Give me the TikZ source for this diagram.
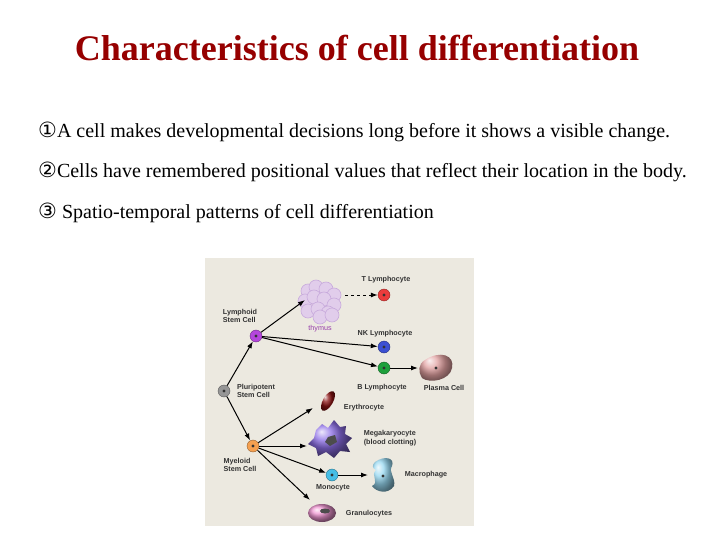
\documentclass[tikz,border=0pt]{standalone}
\usepackage{fontspec}
\setmainfont{Liberation Serif}
\newfontfamily\dejav{DejaVu Sans}
\newfontfamily\lsans{Liberation Sans}
\usetikzlibrary{arrows.meta}
\definecolor{ttl}{RGB}{150,0,0}
\definecolor{bg}{RGB}{236,233,224}
\definecolor{thy}{RGB}{225,205,235}
\definecolor{thyd}{RGB}{200,170,220}
\definecolor{thyt}{RGB}{150,60,170}
\definecolor{cT}{RGB}{235,60,60}
\definecolor{cL}{RGB}{180,70,220}
\definecolor{cNK}{RGB}{60,80,210}
\definecolor{cB}{RGB}{30,160,60}
\definecolor{cP}{RGB}{225,160,160}
\definecolor{cE}{RGB}{140,20,20}
\definecolor{cM}{RGB}{140,110,230}
\definecolor{cMy}{RGB}{245,160,80}
\definecolor{cMo}{RGB}{70,190,230}
\definecolor{cMa}{RGB}{150,215,240}
\definecolor{cG}{RGB}{240,150,210}
\definecolor{cPl}{RGB}{150,150,150}
\begin{document}
\begin{tikzpicture}[x=1pt,y=-1pt,
 cell/.style={circle,draw=#1!60!black,fill=#1,minimum size=12pt,inner sep=0pt,
   path picture={\fill[black!80] (path picture bounding box.center) circle (1.6pt);}},
 lbl/.style={font=\lsans\fontsize{7.2}{8.5}\selectfont\bfseries,text=black!80,align=left,inner sep=0pt},
 arr/.style={-{Latex[length=7pt,width=5pt]},line width=1pt,black},
 bullet/.style={anchor=west,font=\fontsize{20}{22}\selectfont,inner sep=0pt}]
\useasboundingbox (0,0) rectangle (720,540);
\node[font=\fontsize{36}{38}\selectfont\bfseries,text=ttl] (title) at (357,48) {Characteristics of cell differentiation};
\node[bullet] (b1) at (38,132) {{\dejav\fontsize{21}{21}\selectfont ①}A cell makes developmental decisions long before it shows a visible change.};
\node[bullet] (b2) at (38,172) {{\dejav\fontsize{21}{21}\selectfont ②}Cells have remembered positional values that reflect their location in the body.};
\node[bullet] (b3) at (38,213) {{\dejav\fontsize{21}{21}\selectfont ③} Spatio-temporal patterns of cell differentiation};
\fill[bg] (205,258) rectangle (474,526);
% thymus
\node[inner sep=0pt,minimum size=1pt] (thy) at (320,301) {};
\foreach \dx/\dy in {-12/-10,-4/-14,6/-12,14/-6,-15/0,-6/-4,4/-2,14/4,-12/10,-2/8,8/12,0/16,12/14}
  \fill[thy,draw=thyd,line width=0.6pt] (320+\dx,301+\dy) circle (7);
\node[lbl,text=thyt,font=\lsans\fontsize{7.2}{8.5}\selectfont] (thyl) at (320,329) {thymus};
% cells
\node[cell=cT] (T) at (384,295) {};
\node[lbl] at (386,280) {T Lymphocyte};
\node[cell=cL] (L) at (256,336) {};
\node[lbl] at (240,316) {Lymphoid\\Stem Cell};
\node[cell=cNK] (NK) at (384,347) {};
\node[lbl] at (385,334) {NK Lymphocyte};
\node[cell=cB] (B) at (384,368) {};
\node[lbl] at (382,388) {B Lymphocyte};
\node[inner sep=0pt] (P) at (437,369) {};
\shade[ball color=cP] (425,360) .. controls (440,350) and (455,355) .. (452,368) .. controls (450,380) and (430,384) .. (422,378) .. controls (418,372) and (418,364) .. (425,360);
\fill[black!80] (436,368) circle (1.6);
\node[lbl] at (444,388) {Plasma Cell};
\node[cell=cPl] (Pl) at (224,391) {};
\node[lbl] at (256,391) {Pluripotent\\Stem Cell};
\node[inner sep=0pt] (E) at (328,401) {};
\shade[ball color=cE,rotate around={60:(328,401)}] (328,401) ellipse (11 and 5);
\node[lbl] at (364,408) {Erythrocyte};
\node[inner sep=0pt] (M) at (330,440) {};
\shade[ball color=cM] (316,430) -- (322,424) -- (328,428) -- (334,420) -- (340,427) -- (346,426) -- (345,434) -- (352,438) -- (346,444) -- (350,452) -- (340,451) -- (334,458) -- (326,452) -- (318,456) -- (316,448) -- (308,444) -- (314,438) -- cycle;
\fill[black!70] (328,437) -- (335,435) -- (337,442) -- (330,446) -- (325,442) -- cycle;
\node[lbl] at (390,438) {Megakaryocyte\\(blood clotting)};
\node[cell=cMy] (My) at (253,446) {};
\node[lbl] at (240,465) {Myeloid\\Stem Cell};
\node[cell=cMo] (Mo) at (332,475) {};
\node[lbl] at (333,488) {Monocyte};
\node[inner sep=0pt] (Ma) at (382,475) {};
\shade[ball color=cMa] (375,462) .. controls (385,455) and (395,458) .. (392,466) .. controls (388,472) and (396,478) .. (394,486) .. controls (388,495) and (376,492) .. (372,486) .. controls (380,482) and (370,476) .. (376,470) .. controls (372,468) and (372,465) .. (375,462);
\fill[black!80] (383,476) circle (1.6);
\node[lbl] at (426,475) {Macrophage};
\node[inner sep=0pt] (G) at (320,513) {};
\shade[ball color=cG] (322,513) ellipse (14 and 9);
\fill[black!70] (325,511) ellipse (5 and 2.5);
\node[lbl] at (369,514) {Granulocytes};
% arrows
\draw[arr] (Pl) -- (L);
\draw[arr] (Pl) -- (My);
\draw[arr] (L) -- (305,300);
\draw[arr,dashed] (345,295) -- (T);
\draw[arr] (L) -- (NK);
\draw[arr] (L) -- (B);
\draw[arr] (B) -- (418,368);
\draw[arr] (My) -- (313,408);
\draw[arr] (My) -- (307,446);
\draw[arr] (My) -- (Mo);
\draw[arr] (My) -- (310,500);
\draw[arr] (Mo) -- (368,475);
\end{tikzpicture}
\end{document}
